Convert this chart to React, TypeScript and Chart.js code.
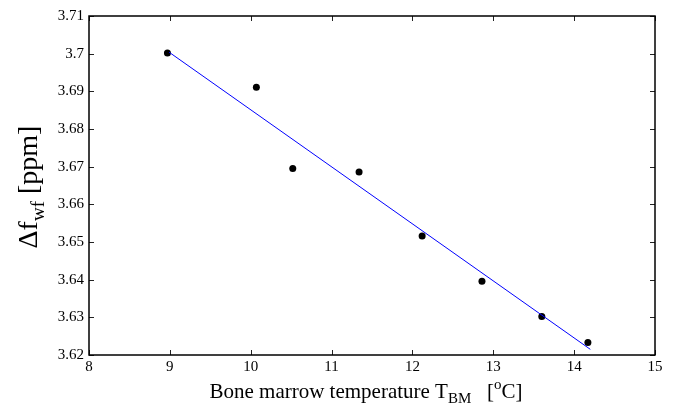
import React, { useEffect, useRef } from "react";
import { Chart, registerables } from "chart.js";

Chart.register(...registerables);

// Measured data: bone marrow temperature (°C) vs water-fat frequency shift (ppm)
const temperatureC = [8.97, 10.07, 10.52, 11.34, 12.12, 12.86, 13.6, 14.17];
const deltaFwf = [3.7002, 3.6911, 3.6695, 3.6686, 3.6516, 3.6396, 3.6302, 3.6233];

// Linear fit line end points
const fitX = [8.99, 14.2];
const fitY = [3.7004, 3.6215];

const xTicks = [8, 9, 10, 11, 12, 13, 14, 15];
const yTicks = [3.62, 3.63, 3.64, 3.65, 3.66, 3.67, 3.68, 3.69, 3.7, 3.71];

const FONT = "'Liberation Serif', 'Times New Roman', serif";

type Seg = { t: string; size: number; dy: number };

function drawSegs(ctx: CanvasRenderingContext2D, segs: Seg[], x: number, y: number, align: "center" | "left") {
  let total = 0;
  for (const s of segs) {
    ctx.font = `${s.size}px ${FONT}`;
    total += ctx.measureText(s.t).width;
  }
  let cx = align === "center" ? x - total / 2 : x;
  ctx.textAlign = "left";
  ctx.textBaseline = "alphabetic";
  for (const s of segs) {
    ctx.font = `${s.size}px ${FONT}`;
    ctx.fillText(s.t, cx, y + s.dy);
    cx += ctx.measureText(s.t).width;
  }
}

const framePlugin = {
  id: "matlabFrame",
  afterDraw(chart: any) {
    const ctx: CanvasRenderingContext2D = chart.ctx;
    const { left, right, top, bottom } = chart.chartArea;
    const xs = chart.scales.x;
    const ys = chart.scales.y;
    ctx.save();
    // ticks (inward, all four sides)
    ctx.strokeStyle = "#222";
    ctx.lineWidth = 1;
    ctx.beginPath();
    const tl = 5;
    for (const v of xTicks) {
      const px = Math.round(xs.getPixelForValue(v)) + 0.5;
      ctx.moveTo(px, bottom);
      ctx.lineTo(px, bottom - tl);
      ctx.moveTo(px, top);
      ctx.lineTo(px, top + tl);
    }
    for (const v of yTicks) {
      const py = Math.round(ys.getPixelForValue(v)) + 0.5;
      ctx.moveTo(left, py);
      ctx.lineTo(left + tl, py);
      ctx.moveTo(right, py);
      ctx.lineTo(right - tl, py);
    }
    ctx.stroke();
    // frame
    ctx.strokeStyle = "#000";
    ctx.lineWidth = 1.5;
    ctx.strokeRect(left, top, right - left, bottom - top);

    ctx.fillStyle = "#000";
    // x title
    drawSegs(
      ctx,
      [
        { t: "Bone marrow temperature T", size: 21, dy: 0 },
        { t: "BM", size: 15, dy: 5 },
        { t: "   [", size: 21, dy: 0 },
        { t: "o", size: 15, dy: -9 },
        { t: "C]", size: 21, dy: 0 },
      ],
      366,
      398,
      "center"
    );
    // y title
    ctx.translate(37, 187);
    ctx.rotate(-Math.PI / 2);
    drawSegs(
      ctx,
      [
        { t: "\u0394f", size: 28, dy: 0 },
        { t: "wf", size: 19, dy: 7 },
        { t: " [ppm]", size: 28, dy: 0 },
      ],
      0,
      0,
      "center"
    );
    ctx.restore();
  },
};

export default function App() {
  const ref = useRef<HTMLCanvasElement | null>(null);

  useEffect(() => {
    document.body.style.margin = "0";
    const canvas = ref.current;
    if (!canvas) return;
    const chart = new Chart(canvas, {
      type: "scatter",
      data: {
        datasets: [
          {
            label: "fit",
            data: fitX.map((x, i) => ({ x, y: fitY[i] })),
            showLine: true,
            borderColor: "#0000ff",
            borderWidth: 1,
            pointRadius: 0,
            fill: false,
          },
          {
            label: "measured",
            data: temperatureC.map((x, i) => ({ x, y: deltaFwf[i] })),
            showLine: false,
            backgroundColor: "#000",
            borderColor: "#000",
            pointRadius: 3.5,
            pointBorderWidth: 0,
          },
        ],
      },
      options: {
        responsive: false,
        animation: false,
        devicePixelRatio: 1,
        layout: { padding: { top: 16, right: 18, left: 0, bottom: 0 } },
        plugins: { legend: { display: false }, tooltip: { enabled: false } },
        scales: {
          x: {
            type: "linear",
            min: 8,
            max: 15,
            afterBuildTicks: (s: any) => {
              s.ticks = xTicks.map((v) => ({ value: v }));
            },
            afterFit: (s: any) => {
              s.height = 53;
            },
            ticks: {
              color: "#000",
              font: { family: FONT, size: 15 },
              padding: 3,
              maxRotation: 0,
              autoSkip: false,
              callback: (v: any) => String(v),
            },
            grid: { display: false, drawTicks: false },
            border: { display: false },
          },
          y: {
            type: "linear",
            min: 3.62,
            max: 3.71,
            afterBuildTicks: (s: any) => {
              s.ticks = yTicks.map((v) => ({ value: v }));
            },
            afterFit: (s: any) => {
              s.width = 89;
            },
            ticks: {
              color: "#000",
              font: { family: FONT, size: 15 },
              padding: 5,
              autoSkip: false,
              callback: (v: any) => String(+Number(v).toFixed(2)),
            },
            grid: { display: false, drawTicks: false },
            border: { display: false },
          },
        },
      },
      plugins: [framePlugin],
    });
    return () => chart.destroy();
  }, []);

  return <canvas ref={ref} width={673} height={408} style={{ display: "block" }} />;
}
